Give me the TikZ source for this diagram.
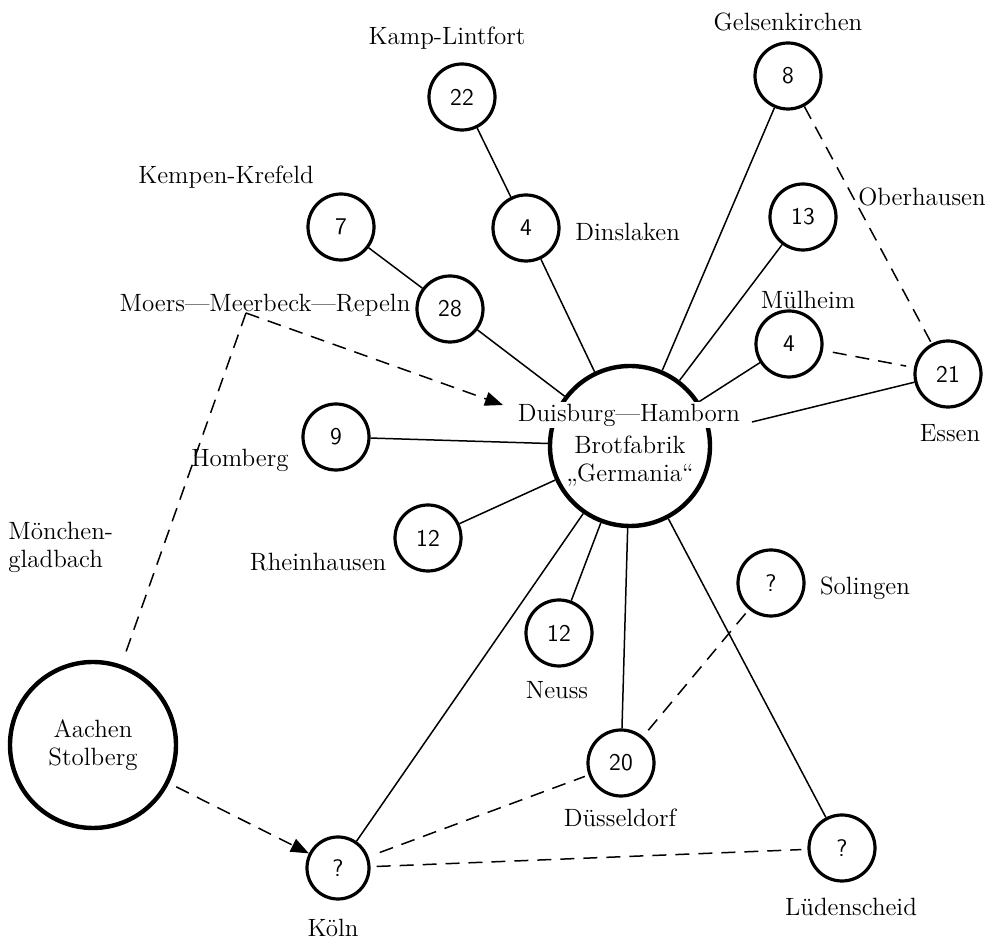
\documentclass[tikz,border=0pt]{standalone}
\usetikzlibrary{arrows.meta}
\begin{document}
\begin{tikzpicture}[x=0.5pt,y=-0.5pt,
  every node/.style={font=\fontsize{12.5}{14}\selectfont},
  sc/.style={circle,draw,line width=1.6pt,minimum size=33pt,inner sep=0pt,font=\sffamily\fontsize{12}{14}\selectfont},
  bigc/.style={circle,draw,line width=2.2pt,minimum size=80pt,inner sep=0pt,align=center},
  lbl/.style={inner sep=1pt},
  edge/.style={line width=0.75pt},
  dl/.style={line width=0.75pt,dash pattern=on 7pt off 4.5pt},
  arr/.style={-{Triangle[length=9pt,width=7pt]}}
]
\useasboundingbox (0,0) rectangle (993,940);
% circles
\node[sc] (n22) at (462,97) {22};
\node[sc] (n4d) at (526,228) {4};
\node[sc] (n7) at (341,227) {7};
\node[sc] (n28) at (450,309) {28};
\node[sc] (n8) at (788,76) {8};
\node[sc] (n13) at (803,217) {13};
\node[sc] (n4m) at (789,344) {4};
\node[sc] (n21) at (948,374) {21};
\node[sc] (n9) at (336,437) {9};
\node[sc] (n12r) at (428,538) {12};
\node[sc] (n12n) at (559,633) {12};
\node[sc] (n20) at (621,763) {20};
\node[sc] (sol) at (771,583) {?};
\node[sc] (lud) at (842,848) {?};
\node[sc,minimum size=31pt] (kol) at (338,868) {?};
\node[bigc] (main) at (630,446) {};
\node[bigc,minimum size=83pt] (aach) at (93,745) {Aachen\\Stolberg};
% coordinates
\coordinate (mp) at (246,313);
\coordinate (at) at (503,405);
\coordinate (hb) at (752,422);
% solid edges
\draw[edge] (n22) -- (n4d);
\draw[edge] (n4d) -- (main);
\draw[edge] (n7) -- (n28);
\draw[edge] (n28) -- (main);
\draw[edge] (n8) -- (main);
\draw[edge] (n13) -- (main);
\draw[edge] (n4m) -- (main);
\draw[edge] (n21) -- (hb);
\draw[edge] (n9) -- (main);
\draw[edge] (n12r) -- (main);
\draw[edge] (n12n) -- (main);
\draw[edge] (n20) -- (main);
\draw[edge] (kol) -- (main);
\draw[edge] (lud) -- (main);
% dashed edges
\draw[dl] (n8) -- (n21);
\draw[dl,shorten <=5pt,shorten >=4pt] (n4m) -- (n21);
\draw[dl,arr] (mp) -- (at);
\draw[dl,shorten >=6pt] (mp) -- (aach);
\draw[dl,arr,shorten <=4pt] (aach) -- (kol);
\draw[dl,shorten <=6pt,shorten >=2pt] (kol) -- (n20);
\draw[dl,shorten <=3pt,shorten >=3pt] (kol) -- (lud);
\draw[dl,shorten <=4pt] (n20) -- (sol);
% labels
\node[lbl,fill=white] (dh) at (629,415) {Duisburg---Hamborn};
\node[lbl,align=center] (brot) at (630,461) {Brotfabrik\\„Germania“};
\node[lbl] (lkamp) at (447,38) {Kamp-Lintfort};
\node[lbl] (lkemp) at (226,177) {Kempen-Krefeld};
\node[lbl] (lgel) at (788,22) {Gelsenkirchen};
\node[lbl,anchor=west] (lober) at (856,197) {Oberhausen};
\node[lbl,anchor=west] (ldins) at (573,232) {Dinslaken};
\node[lbl] (lmul) at (808,300) {Mülheim};
\node[lbl] (lmoers) at (265,305) {Moers---Meerbeck---Repeln};
\node[lbl] (lhom) at (240,460) {Homberg};
\node[lbl,anchor=west,align=left] (lmg) at (6,547) {Mönchen-\\gladbach};
\node[lbl] (lrh) at (318,562) {Rheinhausen};
\node[lbl] (less) at (950,433) {Essen};
\node[lbl] (lsol) at (865,588) {Solingen};
\node[lbl] (lneuss) at (557,690) {Neuss};
\node[lbl] (ldus) at (620,818) {Düsseldorf};
\node[lbl] (llud) at (851,907) {Lüdenscheid};
\node[lbl] (lkol) at (333,928) {Köln};
\end{tikzpicture}
\end{document}
